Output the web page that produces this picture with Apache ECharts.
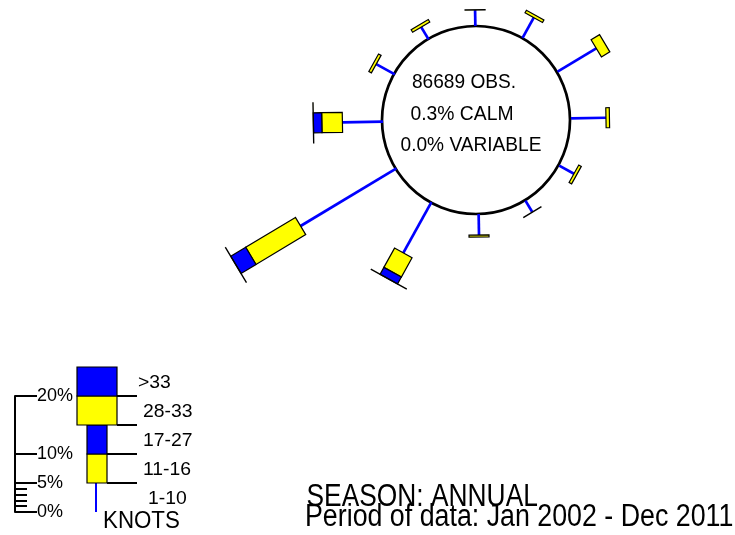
<!DOCTYPE html>
<html>
<head>
<meta charset="utf-8">
<script src="https://cdn.jsdelivr.net/npm/echarts@6/dist/echarts.min.js"></script>
<style>
  html, body { margin: 0; padding: 0; background: #fff; }
  #chart { width: 735px; height: 535px; }
</style>
</head>
<body>
<div id="chart"></div>
<script>
// Wind directions (degrees clockwise from north)
const directions = [0, 30, 60, 90, 120, 150, 180, 210, 240, 270, 300, 330];
// Percent of observations per direction for each speed class (knots)
const knots1to10  = [2.75, 3.98, 7.78, 6.03, 2.9, 2.3, 3.62, 10.0, 19.28, 7.0, 3.66, 2.47];
const knots11to16 = [0.05, 0.5, 1.7, 0.6, 0.5, 0.05, 0.35, 3.8, 10.0, 3.55, 0.5, 0.5];
const knots17to27 = [0, 0, 0, 0, 0, 0, 0, 1.35, 3.0, 1.45, 0, 0];
const knots28to33 = [0, 0, 0, 0, 0, 0, 0, 0.03, 0.03, 0.03, 0, 0];
const knotsOver33 = [0, 0, 0, 0, 0, 0, 0, 0, 0, 0, 0, 0];

// Summary figures printed inside the calm circle
const totalObs = 86689;
const calmPct = 0.3;
const variablePct = 0.0;

// Key
const speedClasses = ['1-10', '11-16', '17-27', '28-33', '>33'];
const keyBounds = [0, 5, 10, 15, 20, 25];
const keyMajorTicks = [0, 5, 10, 20];
const keyMinorTicks = [1, 2, 3, 4];

const seasonText = 'SEASON: ANNUAL';
const periodText = 'Period of data: Jan 2002 - Dec 2011';

// ---- styling / layout ----
const FONT = 'Liberation Sans, Arial, sans-serif';
const BLUE = '#0000ff';
const YELLOW = '#ffff00';
const segFill = [BLUE, YELLOW, BLUE, YELLOW, BLUE];
const segWidth = [0, 20, 20, 40, 40];
const ROSE_CENTER = [477, 120];
const RING_CENTER = [476, 120];
const CALM_R = 94;
const PX_PER_PCT = 5.8;
const RADIUS_MAX = 40;
const KEY_CX = 97;
const KEY_LEADER_END = 137;
const keyLabelX = [148, 143, 143, 143, 138];

const roseData = directions.map((d, i) => [
  d, knots1to10[i], knots11to16[i], knots17to27[i], knots28to33[i], knotsOver33[i]
]);

function renderRose(params, api) {
  const ang = api.value(0);
  const vals = [api.value(1), api.value(2), api.value(3), api.value(4), api.value(5)];
  const base = api.coord([0, ang]);
  const far = api.coord([RADIUS_MAX, ang]);
  let ux = far[0] - base[0], uy = far[1] - base[1];
  const len = Math.hypot(ux, uy);
  ux /= len; uy /= len;
  const nx = -uy, ny = ux;
  const children = [];
  const tip = api.coord([vals[0], ang]);
  children.push({
    type: 'line',
    shape: { x1: base[0], y1: base[1], x2: tip[0], y2: tip[1] },
    style: { stroke: BLUE, lineWidth: 2.7 }
  });
  let r = vals[0];
  for (let k = 1; k < vals.length; k++) {
    if (!(vals[k] > 0)) continue;
    const s = api.coord([r, ang]);
    const e = api.coord([r + vals[k], ang]);
    const hw = segWidth[k] / 2;
    children.push({
      type: 'polygon',
      z2: k,
      shape: { points: [
        [s[0] + nx * hw, s[1] + ny * hw],
        [e[0] + nx * hw, e[1] + ny * hw],
        [e[0] - nx * hw, e[1] - ny * hw],
        [s[0] - nx * hw, s[1] - ny * hw]
      ] },
      style: { fill: segFill[k], stroke: '#000', lineWidth: 1.2 }
    });
    r += vals[k];
  }
  return { type: 'group', children };
}

const keyData = speedClasses.map((c, i) => [0, keyBounds[i], keyBounds[i + 1], i]);

function renderKey(params, api) {
  const i = api.value(3);
  const y0 = api.coord([0, api.value(1)])[1];
  const y1 = api.coord([0, api.value(2)])[1];
  const children = [];
  if (i === 0) {
    children.push({
      type: 'line',
      shape: { x1: KEY_CX - 1, y1: y0, x2: KEY_CX - 1, y2: y1 },
      style: { stroke: BLUE, lineWidth: 2 }
    });
  } else {
    const hw = segWidth[i] / 2;
    children.push({
      type: 'rect',
      shape: { x: KEY_CX - hw, y: y1, width: hw * 2, height: y0 - y1 },
      style: { fill: segFill[i], stroke: '#000', lineWidth: 1.2 }
    });
    children.push({
      type: 'line',
      shape: { x1: KEY_CX + hw, y1: y0, x2: KEY_LEADER_END, y2: y0 },
      style: { stroke: '#000', lineWidth: 2 }
    });
  }
  children.push({
    type: 'text',
    x: keyLabelX[i],
    y: (y0 + y1) / 2 + 1,
    scaleX: 1.02,
    style: {
      text: speedClasses[i], fill: '#000', font: '19px ' + FONT,
      align: 'left', verticalAlign: 'middle'
    }
  });
  return { type: 'group', children };
}

function caption(text, x, y, size, sx, align) {
  return {
    type: 'text', x, y, scaleX: sx,
    style: { text, fill: '#000', font: size + 'px ' + FONT, align: align || 'left', verticalAlign: 'middle' }
  };
}

const chart = echarts.init(document.getElementById('chart'), null, { renderer: 'canvas' });
chart.setOption({
  backgroundColor: '#fff',
  animation: false,
  polar: [
    { center: ROSE_CENTER, radius: [CALM_R, CALM_R + PX_PER_PCT * RADIUS_MAX] },
    { center: RING_CENTER, radius: CALM_R }
  ],
  angleAxis: [
    { polarIndex: 0, type: 'value', min: 0, max: 360, startAngle: 91, clockwise: true, show: false },
    {
      polarIndex: 1, type: 'value', min: 0, max: 360, startAngle: 90,
      axisLine: { show: true, lineStyle: { color: '#000', width: 2.7 } },
      axisTick: { show: false }, axisLabel: { show: false },
      splitLine: { show: false }, splitArea: { show: false }
    }
  ],
  radiusAxis: [
    { polarIndex: 0, type: 'value', min: 0, max: RADIUS_MAX, show: false },
    { polarIndex: 1, type: 'value', min: 0, max: 1, show: false }
  ],
  grid: { left: 15, top: 396, width: 100, height: 116 },
  xAxis: { gridIndex: 0, type: 'value', min: 0, max: 1, show: false },
  yAxis: [
    {
      gridIndex: 0, type: 'value', min: 0, max: 20, position: 'left',
      axisLine: { show: true, lineStyle: { color: '#000', width: 2 } },
      axisTick: { show: true, inside: true, length: 22, customValues: keyMajorTicks, lineStyle: { color: '#000', width: 2 } },
      axisLabel: {
        inside: true, margin: 22, customValues: keyMajorTicks, formatter: '{value}%',
        color: '#000', fontSize: 18, fontFamily: FONT
      },
      splitLine: { show: false }
    },
    {
      gridIndex: 0, type: 'value', min: 0, max: 20, position: 'left', offset: 0,
      axisLine: { show: false },
      axisTick: { show: true, inside: true, length: 12, customValues: keyMinorTicks, lineStyle: { color: '#000', width: 2 } },
      axisLabel: { show: false },
      splitLine: { show: false }
    }
  ],
  series: [
    {
      type: 'custom', coordinateSystem: 'polar', polarIndex: 0,
      renderItem: renderRose, data: roseData, silent: true, clip: false
    },
    {
      type: 'custom', coordinateSystem: 'cartesian2d', xAxisIndex: 0, yAxisIndex: 0,
      renderItem: renderKey, data: keyData, silent: true, clip: false
    }
  ],
  graphic: [
    caption(totalObs + ' OBS.', 464, 82.5, 21, 0.91, 'center'),
    caption(calmPct.toFixed(1) + '% CALM', 462, 114, 21, 0.92, 'center'),
    caption(variablePct.toFixed(1) + '% VARIABLE', 471, 145, 21, 0.91, 'center'),
    caption('KNOTS', 103, 521, 24, 0.93, 'left'),
    caption(seasonText, 306.5, 497.5, 31, 0.85, 'left'),
    caption(periodText, 305, 517, 31, 0.864, 'left')
  ]
});
</script>
</body>
</html>
